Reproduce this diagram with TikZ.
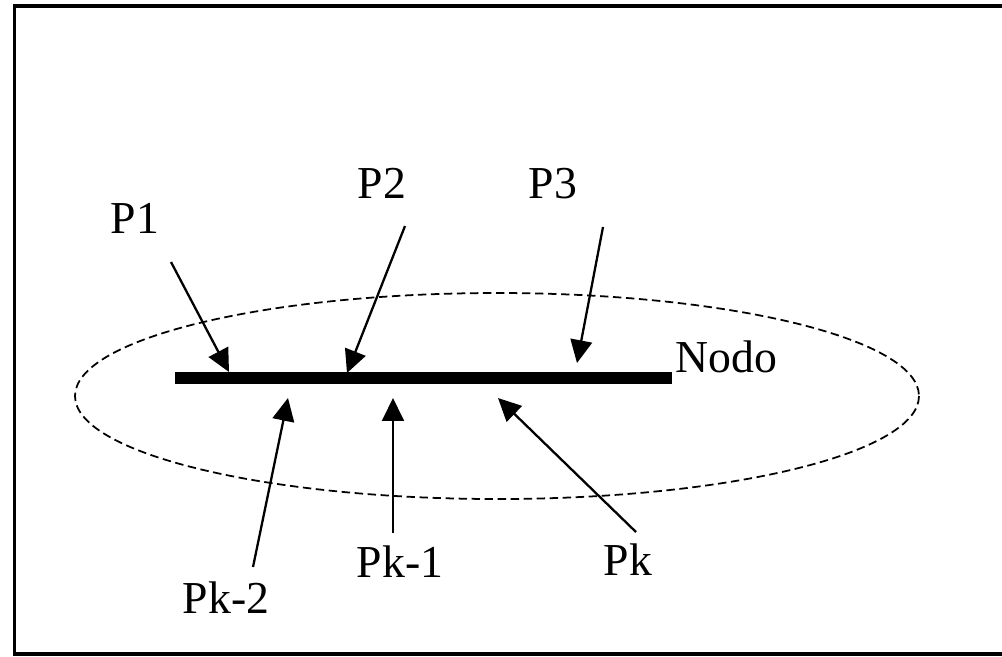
\documentclass[tikz,border=0pt]{standalone}
\usepackage{fontspec}
\setmainfont{Liberation Serif}
\usetikzlibrary{arrows.meta}

\begin{document}
\begin{tikzpicture}[x=0.01cm, y=-0.01cm,
    lbl/.style={anchor=base, inner sep=0pt, font=\fontsize{13}{15}\selectfont},
    flow/.style={-{Triangle[length=6.5pt, width=6.2pt]}, line width=0.65pt}]
      \useasboundingbox (0, 0) rectangle (1002, 656);
      \draw[line width=0.9pt] (1010, 6) -- (14.5, 6) -- (14.5, 654) -- (1010, 654);
      % node cloud and bar
      \draw[dashed, dash pattern=on 2.4pt off 1.3pt, line width=0.5pt] (497, 396) ellipse (422 and 103);
      \coordinate (Bar West) at (175, 378);
      \coordinate (Bar East) at (672, 378);
      \draw[line width=3.2pt] (Bar West) -- (Bar East);
      \node[lbl, anchor=base west] (Nodo) at (675, 372) {Nodo};
      % incoming links
      \node[lbl] (P1) at (135, 233) {P1};
      \node[lbl] (P2) at (382, 198) {P2};
      \node[lbl] (P3) at (553, 198) {P3};
      \coordinate (P1 Start) at (171, 262);
      \coordinate (P1 End) at (229, 372);
      \coordinate (P2 Start) at (405, 226);
      \coordinate (P2 End) at (347, 373);
      \coordinate (P3 Start) at (603, 227);
      \coordinate (P3 End) at (577, 363);
      \draw[flow] (P1 Start) -- (P1 End);
      \draw[flow] (P2 Start) -- (P2 End);
      \draw[flow] (P3 Start) -- (P3 End);
      % outgoing links
      \node[lbl] (Pk-2) at (226, 613) {Pk-2};
      \node[lbl] (Pk-1) at (400, 577) {Pk-1};
      \node[lbl] (Pk) at (628, 575) {Pk};
      \coordinate (Pk-2 Start) at (253, 567);
      \coordinate (Pk-2 End) at (288, 398);
      \coordinate (Pk-1 Start) at (393, 533);
      \coordinate (Pk-1 End) at (393, 398);
      \coordinate (Pk Start) at (636, 532);
      \coordinate (Pk End) at (498, 398);
      \draw[flow] (Pk-2 Start) -- (Pk-2 End);
      \draw[flow] (Pk-1 Start) -- (Pk-1 End);
      \draw[flow] (Pk Start) -- (Pk End);
\end{tikzpicture}
\end{document}
